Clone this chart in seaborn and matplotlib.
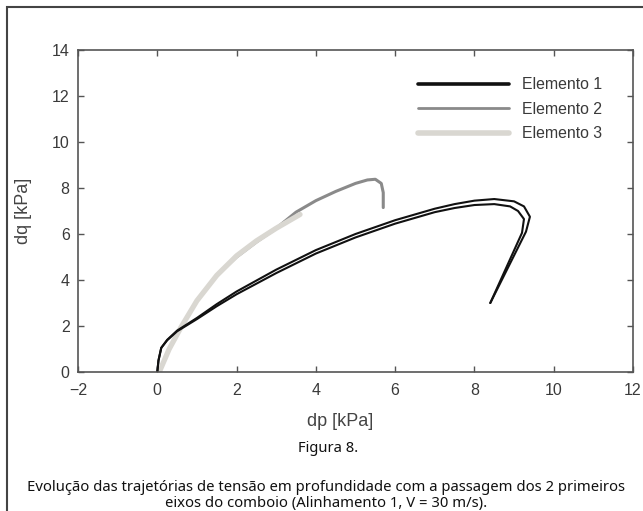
import matplotlib
matplotlib.use("Agg")
import matplotlib.pyplot as plt
import seaborn as sns
import pandas as pd
from matplotlib.patches import Rectangle
from matplotlib.lines import Line2D

# ---- data ----
e1a_dp = [0, 0.03, 0.1, 0.25, 0.5, 1.0, 1.5, 2.0, 3.0, 4.0, 5.0, 6.0, 7.0, 7.5, 8.0, 8.5, 9.0, 9.25, 9.4, 9.3, 8.4]
e1a_dq = [0, 0.5, 1.05, 1.4, 1.8, 2.35, 2.95, 3.5, 4.45, 5.3, 6.0, 6.6, 7.1, 7.3, 7.45, 7.52, 7.42, 7.2, 6.75, 6.1, 3.0]
e1b_dp = [0, 0.03, 0.1, 0.25, 0.5, 1.0, 1.5, 2.0, 3.0, 4.0, 5.0, 6.0, 7.0, 7.5, 8.0, 8.5, 8.9, 9.1, 9.25, 9.2, 8.4]
e1b_dq = [0, 0.5, 1.05, 1.38, 1.77, 2.3, 2.86, 3.38, 4.3, 5.15, 5.85, 6.45, 6.95, 7.13, 7.26, 7.3, 7.2, 7.0, 6.65, 6.05, 3.0]
e2_dp = [0.05, 0.3, 0.6, 1.0, 1.5, 2.0, 2.5, 3.0, 3.5, 4.0, 4.5, 5.0, 5.3, 5.5, 5.65, 5.7, 5.7]
e2_dq = [0, 1.0, 1.95, 3.1, 4.2, 5.0, 5.65, 6.25, 6.95, 7.45, 7.85, 8.2, 8.35, 8.38, 8.2, 7.8, 7.15]
e3_dp = [0.05, 0.3, 0.6, 1.0, 1.5, 2.0, 2.5, 3.0, 3.3, 3.6]
e3_dq = [0, 1.0, 1.95, 3.1, 4.2, 5.05, 5.7, 6.25, 6.55, 6.85]
labels = ["Elemento 1", "Elemento 2", "Elemento 3"]
xticks = [-2, 0, 2, 4, 6, 8, 10, 12]
yticks = [0, 2, 4, 6, 8, 10, 12, 14]

sns.set_theme(style="white")
plt.rcParams['font.family'] = ['Liberation Sans', 'DejaVu Sans']

W, H = 643, 511
fig = plt.figure(figsize=(W / 100, H / 100), dpi=100)
ax = fig.add_axes([78 / W, (H - 372) / H, 555 / W, 322 / H])

c1, c2, c3 = "#111111", "#8a8a8a", "#d9d7d1"
sns.lineplot(x=e2_dp, y=e2_dq, sort=False, estimator=None, color=c2, lw=2.2, ax=ax)
sns.lineplot(x=e3_dp, y=e3_dq, sort=False, estimator=None, color=c3, lw=3.8, ax=ax)
sns.lineplot(x=e1a_dp, y=e1a_dq, sort=False, estimator=None, color=c1, lw=1.5, ax=ax)
sns.lineplot(x=e1b_dp, y=e1b_dq, sort=False, estimator=None, color=c1, lw=1.5, ax=ax)

ax.set_xlim(-2, 12)
ax.set_ylim(0, 14)
ax.set_xticks(xticks)
ax.set_yticks(yticks)
ax.set_xticklabels(["\u22122" if t < 0 else str(t) for t in xticks])
ax.tick_params(direction="in", length=4, width=1, colors="#555555",
               labelcolor="#3a3a3a", labelsize=11.5, top=True, right=True,
               bottom=True, left=True)
ax.tick_params(axis="x", pad=8)
ax.tick_params(axis="y", pad=6)
for s in ax.spines.values():
    s.set_visible(True)
    s.set_color("#555555")
    s.set_linewidth(1.2)
ax.set_xlabel("dp [kPa]", fontsize=13, color="#444444")
ax.set_ylabel("dq [kPa]", fontsize=13, color="#444444")
ax.xaxis.set_label_coords(0.472, -0.127)
ax.yaxis.set_label_coords(-0.083, 0.5)

handles = [Line2D([], [], color=c1, lw=2.6), Line2D([], [], color=c2, lw=2.0),
           Line2D([], [], color=c3, lw=4.0)]
ax.legend(handles, labels, loc="upper left", bbox_to_anchor=(0.6126, 0.915),
          frameon=False, fontsize=11.4, handlelength=5.75, handletextpad=0.8,
          labelspacing=0.6, borderpad=0, borderaxespad=0, labelcolor="#3a3a3a")

fig.text(328 / W, 1 - 448 / H, "Figura 8.", ha="center", va="center",
         fontsize=10.6, family=["Noto Sans", "DejaVu Sans"], color="#111111")
fig.text(326 / W, 1 - 495.5 / H,
         "Evolução das trajetórias de tensão em profundidade com a passagem dos 2 primeiros\n"
         "eixos do comboio (Alinhamento 1, V = 30 m/s).",
         ha="center", va="center", fontsize=10.7, linespacing=1.1,
         family=["Noto Sans", "DejaVu Sans"], color="#111111")

fig.add_artist(Rectangle((7 / W, -0.05), 1.2, 1 - 7 / H + 0.05, transform=fig.transFigure,
                         fill=False, edgecolor="#444444", lw=1.5))

fig.savefig("out.png", dpi=100)
